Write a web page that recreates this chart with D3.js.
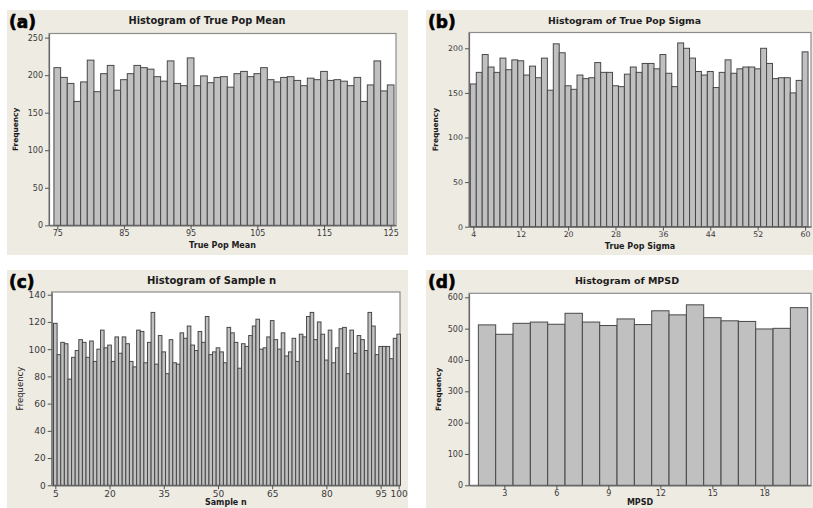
<!DOCTYPE html>
<html>
<head>
<meta charset="utf-8">
<script src="https://cdn.jsdelivr.net/npm/d3@7"></script>
<style>
  html, body { margin: 0; padding: 0; background: #ffffff; }
  svg { display: block; }
</style>
</head>
<body>
<svg id="chart" width="813" height="508"></svg>
<script>
// ---- Histogram counts (one bar per unit-wide bin) ----
const meanBinStart = 75;
const meanCounts = [210,197,189,165,191,220,178,202,213,180,
                    194,202,213,210,208,198,192,219,189,186,
                    223,186,199,190,197,198,184,202,205,198,
                    202,210,194,191,197,198,193,186,196,194,
                    205,193,194,192,186,197,165,187,219,179,187];

const sigmaBinStart = 4;
const sigmaCounts = [160,173,193,179,173,189,176,187,186,170,
                     180,167,189,153,205,195,158,154,170,166,
                     167,184,173,173,158,157,171,179,173,183,
                     183,177,193,172,157,206,200,189,174,170,
                     174,156,173,187,172,177,179,179,177,200,
                     183,166,167,167,150,164,196];

const nBinStart = 5;
const nCounts = [119,96,105,104,78,94,99,107,105,94,
                 106,91,100,114,101,103,91,109,97,109,
                 104,91,87,114,113,90,105,127,89,110,
                 98,82,107,90,89,112,108,117,103,99,
                 113,105,124,96,98,101,98,90,116,112,
                 105,86,104,102,110,117,122,100,101,109,
                 121,107,100,112,95,98,108,91,111,109,
                 124,127,107,120,111,92,114,90,101,115,
                 116,82,114,97,110,107,99,127,117,96,
                 102,102,102,93,108,111];

const mpsdBinStart = 2;
const mpsdCounts = [512,482,517,521,514,549,521,510,531,513,
                    557,544,576,535,525,523,499,501,567];

// ---- Axis tick labels ----
const meanXTicks  = [75, 85, 95, 105, 115, 125];
const meanYTicks  = [0, 50, 100, 150, 200, 250];
const sigmaXTicks = [4, 12, 20, 28, 36, 44, 52, 60];
const sigmaYTicks = [0, 50, 100, 150, 200];
const nXTicks     = [5, 20, 35, 50, 65, 80, 95, 100];
const nYTicks     = [0, 20, 40, 60, 80, 100, 120, 140];
const mpsdXTicks  = [3, 6, 9, 12, 15, 18];
const mpsdYTicks  = [0, 100, 200, 300, 400, 500, 600];

// ---- Drawing ----
const FONT = "'DejaVu Sans', Verdana, sans-serif";
const svg = d3.select("#chart");

function drawPanel(p) {
  const g = svg.append("g");

  // panel background
  g.append("rect")
    .attr("x", p.box.x).attr("y", p.box.y)
    .attr("width", p.box.w).attr("height", p.box.h)
    .attr("fill", "#eeebe3");

  const x = d3.scaleLinear().domain(p.xDomain).range([p.plot.left, p.plot.right]);
  const y = d3.scaleLinear().domain(p.yDomain).range([p.plot.bottom, p.plot.top]);

  // data region
  g.append("rect")
    .attr("x", p.plot.left).attr("y", p.plot.top)
    .attr("width", p.plot.right - p.plot.left)
    .attr("height", p.plot.bottom - p.plot.top)
    .attr("fill", "#ffffff")
    .attr("stroke", "#8c8c8c").attr("stroke-width", 1.2);

  // bars
  const rows = p.counts.map((v, i) => ({ bin: p.binStart + i, v }));
  g.append("g").selectAll("rect").data(rows).join("rect")
    .attr("x", d => x(d.bin - 0.5))
    .attr("width", d => x(d.bin + 0.5) - x(d.bin - 0.5))
    .attr("y", d => y(d.v))
    .attr("height", d => y(0) - y(d.v))
    .attr("fill", "#c0c0c0")
    .attr("stroke", "#484848")
    .attr("stroke-width", 1);

  // axes
  const xAxis = g.append("g")
    .attr("transform", `translate(0,${p.plot.bottom})`)
    .call(d3.axisBottom(x).tickValues(p.xTicks).tickSize(4).tickSizeOuter(0).tickPadding(1));
  const yAxis = g.append("g")
    .attr("transform", `translate(${p.plot.left},0)`)
    .call(d3.axisLeft(y).tickValues(p.yTicks).tickSize(4).tickSizeOuter(0).tickPadding(2));

  [xAxis, yAxis].forEach(a => {
    a.select(".domain").attr("stroke", "#6a6a6a").attr("stroke-width", 1.2);
    a.selectAll(".tick line").attr("stroke", "#555");
    a.selectAll(".tick text")
      .attr("fill", "#3a3a3a")
      .style("font-family", FONT)
      .style("font-size", p.tickFont + "px");
  });

  // panel title
  g.append("text")
    .attr("x", p.titleX).attr("y", p.titleY)
    .attr("text-anchor", "middle")
    .style("font-family", FONT).style("font-weight", "bold")
    .style("font-size", p.titleFont + "px")
    .attr("fill", "#1c1c1c")
    .text(p.title);

  // x-axis title
  g.append("text")
    .attr("x", (p.plot.left + p.plot.right) / 2).attr("y", p.xTitleY)
    .attr("text-anchor", "middle")
    .style("font-family", FONT).style("font-weight", "bold")
    .style("font-size", "8px")
    .attr("fill", "#1c1c1c")
    .text(p.xTitle);

  // y-axis title
  g.append("text")
    .attr("transform", `translate(${p.yTitleX},${(p.plot.top + p.plot.bottom) / 2}) rotate(-90)`)
    .attr("text-anchor", "middle")
    .style("font-family", FONT).style("font-weight", p.yTitleWeight)
    .style("font-size", p.yTitleFont + "px")
    .attr("fill", "#1c1c1c")
    .text("Frequency");

  // panel letter
  g.append("text")
    .attr("x", p.box.x + 2).attr("y", p.letterY)
    .style("font-family", FONT).style("font-weight", "bold")
    .style("font-size", "17px")
    .attr("fill", "#000")
    .attr("stroke", "#000").attr("stroke-width", 0.6)
    .text(p.letter);
}

drawPanel({
  letter: "(a)", letterY: 27.5,
  box: { x: 7, y: 10, w: 401, h: 245 },
  plot: { left: 49, right: 396, top: 33.5, bottom: 225.3 },
  xDomain: [73.76, 125.8], yDomain: [0, 255.5],
  binStart: meanBinStart, counts: meanCounts,
  xTicks: meanXTicks, yTicks: meanYTicks, tickFont: 8,
  title: "Histogram of True Pop Mean", titleX: 207, titleY: 23.5, titleFont: 9.8,
  xTitle: "True Pop Mean", xTitleY: 248,
  yTitleX: 18, yTitleFont: 7.4, yTitleWeight: "bold"
});

drawPanel({
  letter: "(b)", letterY: 27.5,
  box: { x: 426, y: 10, w: 401, h: 245 },
  plot: { left: 469, right: 811, top: 32.5, bottom: 226.7 },
  xDomain: [3.27, 61.0], yDomain: [0, 217.7],
  binStart: sigmaBinStart, counts: sigmaCounts,
  xTicks: sigmaXTicks, yTicks: sigmaYTicks, tickFont: 7.8,
  title: "Histogram of True Pop Sigma", titleX: 624.5, titleY: 23.5, titleFont: 9.3,
  xTitle: "True Pop Sigma", xTitleY: 249,
  yTitleX: 438, yTitleFont: 7.4, yTitleWeight: "bold"
});

drawPanel({
  letter: "(c)", letterY: 288,
  box: { x: 7, y: 270, w: 401, h: 238 },
  plot: { left: 51.7, right: 400, top: 292, bottom: 485.3 },
  xDomain: [4.0, 100.36], yDomain: [0, 142],
  binStart: nBinStart, counts: nCounts,
  xTicks: nXTicks, yTicks: nYTicks, tickFont: 9,
  title: "Histogram of Sample n", titleX: 211.5, titleY: 283.5, titleFont: 10,
  xTitle: "Sample n", xTitleY: 504.5,
  yTitleX: 23, yTitleFont: 8.5, yTitleWeight: "normal"
});

drawPanel({
  letter: "(d)", letterY: 288,
  box: { x: 426, y: 270, w: 401, h: 238 },
  plot: { left: 469, right: 811, top: 293.3, bottom: 485.3 },
  xDomain: [0.96, 20.69], yDomain: [0, 612.8],
  binStart: mpsdBinStart, counts: mpsdCounts,
  xTicks: mpsdXTicks, yTicks: mpsdYTicks, tickFont: 8,
  title: "Histogram of MPSD", titleX: 627, titleY: 284, titleFont: 9.5,
  xTitle: "MPSD", xTitleY: 505,
  yTitleX: 441, yTitleFont: 7.4, yTitleWeight: "bold"
});
</script>
</body>
</html>
